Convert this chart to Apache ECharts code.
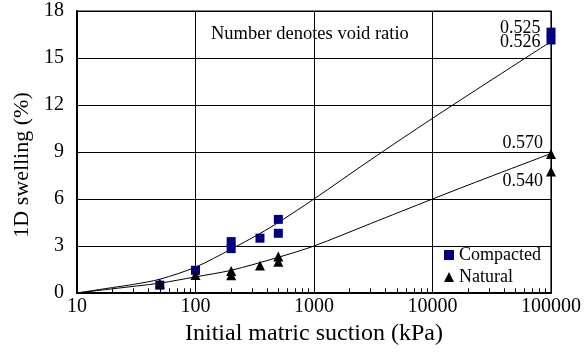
<!DOCTYPE html>
<html>
<head>
<meta charset="utf-8">
<script src="https://cdn.jsdelivr.net/npm/echarts@6/dist/echarts.min.js"></script>
<style>
  html, body { margin: 0; padding: 0; background: #fff; }
  #chart { width: 584px; height: 356px; }
</style>
</head>
<body>
<div id="chart"></div>
<script>
// Measured swelling, compacted specimens: suction (kPa) and 1D swelling (%)
const compactedSuction = [50, 100, 200, 200, 350, 500, 500];
const compactedSwelling = [0.5, 1.45, 3.28, 2.83, 3.5, 4.7, 3.81];

// Measured swelling, natural specimens
const naturalSuction = [50, 100, 200, 200, 350, 500, 500];
const naturalSwelling = [0.6, 1.15, 1.41, 1.14, 1.75, 2.33, 1.99];

// End points at 100000 kPa, annotated with void ratio
const endSuction = 100000;
const compactedEndSwelling = [16.65, 16.15];
const compactedEndRatio = ['0.525', '0.526'];
const naturalEndSwelling = [8.87, 7.75];
const naturalEndRatio = ['0.570', '0.540'];

// Trend curves, sampled along the drawn fits
const compactedFitSuction = [10, 20, 30, 50, 100, 200, 350, 500, 1000, 3000, 10000, 30000, 100000];
const compactedFitSwelling = [0, 0.35, 0.55, 0.88, 1.65, 2.8, 3.8, 4.5, 6.0, 8.5, 11.15, 13.5, 16.05];
const naturalFitSuction = [10, 20, 50, 100, 200, 500, 1000, 3000, 10000, 30000, 100000];
const naturalFitSwelling = [0, 0.27, 0.63, 1.03, 1.45, 2.28, 3.0, 4.43, 6.0, 7.4, 8.9];

// Axis ticks
const xTickLabels = ['10', '100', '1000', '10000', '100000'];
const yTicks = [0, 3, 6, 9, 12, 15, 18];
// minor log ticks: 2..9 inside each decade
const minorTickValues = [];
for (let decade = 10; decade < 100000; decade *= 10) {
  for (let k = 2; k <= 9; k++) minorTickValues.push(decade * k);
}
const minorTickLength = 0.3; // in swelling units (about 5 px)

const FONT = '"Liberation Serif", "Times New Roman", serif';
const pairs = (xs, ys) => xs.map((x, i) => [x, ys[i]]);

const compactedEndLabels = [
  { offset: [0, -4], distance: 6 },
  { offset: [0, 2], distance: 6 }
];
const naturalEndLabels = [
  { offset: [0, -11], distance: 3 },
  { offset: [0, 10], distance: 3 }
];

const endLabel = (text, cfg) => ({
  show: true, position: 'left', formatter: text,
  distance: cfg.distance, offset: cfg.offset,
  color: '#000', fontFamily: FONT, fontSize: 18
});

const compactedData = pairs(compactedSuction, compactedSwelling).concat(
  compactedEndSwelling.map((y, i) => ({
    value: [endSuction, y],
    label: endLabel(compactedEndRatio[i], compactedEndLabels[i])
  }))
);
const naturalData = pairs(naturalSuction, naturalSwelling).concat(
  naturalEndSwelling.map((y, i) => ({
    value: [endSuction, y],
    label: endLabel(naturalEndRatio[i], naturalEndLabels[i])
  }))
);

const chart = echarts.init(document.getElementById('chart'), null, { renderer: 'canvas' });

chart.setOption({
  animation: false,
  backgroundColor: '#fff',
  textStyle: { fontFamily: FONT, color: '#000' },
  title: {
    text: 'Number denotes void ratio',
    left: 206, top: 20,
    textStyle: { fontFamily: FONT, fontSize: 18.5, fontWeight: 'normal', color: '#000' }
  },
  legend: {
    orient: 'vertical',
    left: 439, top: 241,
    itemWidth: 10, itemHeight: 10, itemGap: 4,
    textStyle: { fontFamily: FONT, fontSize: 18, color: '#000' },
    data: [
      { name: 'Compacted', icon: 'rect' },
      { name: 'Natural', icon: 'triangle' }
    ]
  },
  grid: {
    left: 77, top: 11, right: 31, bottom: 63,
    show: true, borderColor: '#000', borderWidth: 1.2, backgroundColor: 'transparent'
  },
  xAxis: {
    type: 'log', logBase: 10, min: 10, max: 100000,
    name: 'Initial matric suction (kPa)', nameLocation: 'middle', nameGap: 27,
    nameTextStyle: { fontFamily: FONT, fontSize: 24, color: '#000' },
    axisLine: { show: true, lineStyle: { color: '#000', width: 2 } },
    axisTick: { show: false },
    axisLabel: {
      margin: 4, fontFamily: FONT, fontSize: 20, color: '#000',
      formatter: v => xTickLabels[Math.round(Math.log10(v)) - 1]
    },
    splitLine: { show: true, lineStyle: { color: '#000', width: 1 } }
  },
  yAxis: {
    type: 'value', min: yTicks[0], max: yTicks[yTicks.length - 1], interval: 3,
    name: '1D swelling (%)', nameLocation: 'middle', nameGap: 44,
    nameTextStyle: { fontFamily: FONT, fontSize: 22, color: '#000', padding: [0, 26, 0, 0] },
    axisLine: { show: true, lineStyle: { color: '#000', width: 2 } },
    axisTick: { show: false },
    axisLabel: { margin: 13, fontFamily: FONT, fontSize: 20, color: '#000', padding: [6, 0, 0, 0] },
    splitLine: { show: true, lineStyle: { color: '#000', width: 1 } }
  },
  series: [
    {
      name: 'Compacted fit', type: 'line',
      data: pairs(compactedFitSuction, compactedFitSwelling),
      smooth: 0.3, showSymbol: false, symbol: 'none',
      lineStyle: { color: '#000', width: 1 }, silent: true, z: 3
    },
    {
      name: 'Natural fit', type: 'line',
      data: pairs(naturalFitSuction, naturalFitSwelling),
      smooth: 0.3, showSymbol: false, symbol: 'none',
      lineStyle: { color: '#000', width: 1 }, silent: true, z: 3
    },
    {
      name: 'Compacted', type: 'scatter',
      symbol: 'rect', symbolSize: 9,
      itemStyle: { color: '#000080', opacity: 1 },
      data: compactedData, z: 4,
      // minor tick marks along the bottom log axis, pointing into the plot
      markLine: {
        silent: true, symbol: 'none', animation: false,
        label: { show: false },
        lineStyle: { color: '#000', width: 1, type: 'solid', opacity: 1 },
        emphasis: { disabled: true },
        data: minorTickValues.map(v => [
          { coord: [v, 0] },
          { coord: [v, minorTickLength] }
        ])
      }
    },
    {
      name: 'Natural', type: 'scatter',
      symbol: 'triangle', symbolSize: 10,
      itemStyle: { color: '#000', opacity: 1 },
      data: naturalData, z: 4
    }
  ]
});
</script>
</body>
</html>
